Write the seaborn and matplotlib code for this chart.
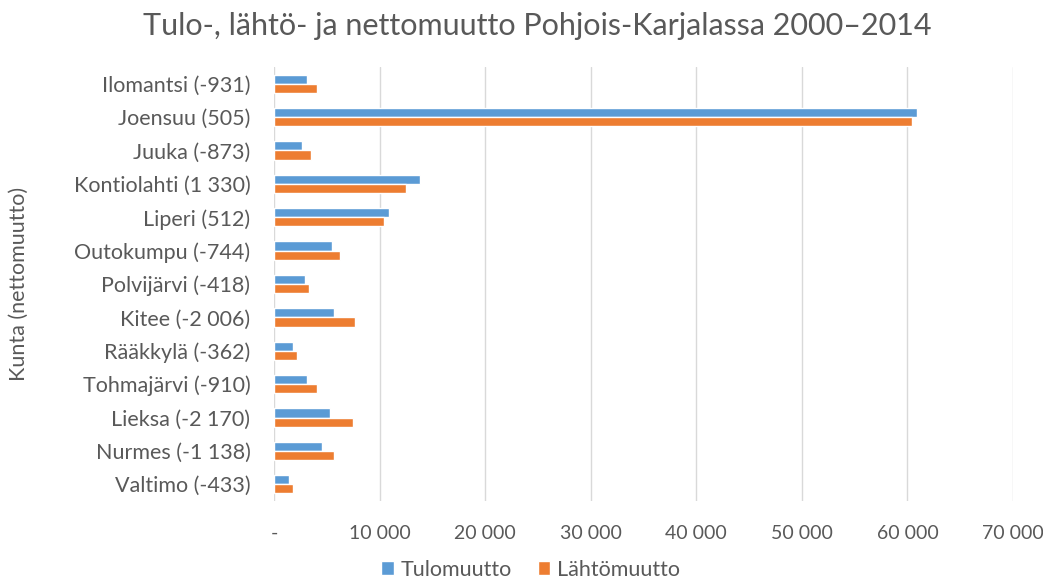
import matplotlib
matplotlib.use('Agg')
import matplotlib.pyplot as plt
from matplotlib.ticker import FuncFormatter
import numpy as np
import pandas as pd
import seaborn as sns

kunnat = ['Ilomantsi (-931)', 'Joensuu (505)', 'Juuka (-873)', 'Kontiolahti (1 330)',
          'Liperi (512)', 'Outokumpu (-744)', 'Polvijärvi (-418)', 'Kitee (-2 006)',
          'Rääkkylä (-362)', 'Tohmajärvi (-910)', 'Lieksa (-2 170)', 'Nurmes (-1 138)',
          'Valtimo (-433)']
tulomuutto = [3150, 60900, 2650, 13800, 10890, 5530, 2890, 5700, 1800, 3130, 5330, 4500, 1400]
lahtomuutto = [4081, 60395, 3523, 12470, 10378, 6274, 3308, 7706, 2162, 4040, 7500, 5638, 1833]

df = pd.DataFrame({
    'kunta': kunnat * 2,
    'arvo': tulomuutto + lahtomuutto,
    'sarja': ['Tulomuutto'] * len(kunnat) + ['Lähtömuutto'] * len(kunnat),
})

sns.set_style('white')
plt.rcParams['font.family'] = ['Lato', 'DejaVu Sans']
grey = '#595959'

fig = plt.figure(figsize=(10.43, 5.81), dpi=100)
ax = fig.add_axes([274 / 1043, 1 - 501 / 581, (1013 - 274) / 1043, (501 - 67) / 581])

sns.barplot(data=df, y='kunta', x='arvo', hue='sarja', orient='h', ax=ax,
            palette=['#5B9BD5', '#ED7D31'], width=0.55, saturation=1, legend=True)

ax.set_xlim(0, 70000)
ax.set_xticks(np.arange(0, 70001, 10000))
ax.xaxis.set_major_formatter(FuncFormatter(
    lambda v, p: '-' if v == 0 else f'{int(v):,}'.replace(',', ' ')))
ax.grid(axis='x', color='#D9D9D9', linewidth=1)
ax.set_axisbelow(True)
for s in ax.spines.values():
    s.set_visible(False)
ax.axvline(0, color='#D9D9D9', linewidth=1.3, zorder=0)
ax.tick_params(axis='x', length=0, pad=17, labelsize=14, labelcolor=grey)
ax.tick_params(axis='y', length=0, pad=17, labelsize=15.5, labelcolor=grey)
ax.set_xlabel('')
ax.set_ylabel('Kunta (nettomuutto)', fontsize=15.5, color=grey)
ax.yaxis.set_label_coords((29 - 274) / 739, 0.5)

fig.suptitle('Tulo-, lähtö- ja nettomuutto Pohjois-Karjalassa 2000–2014',
             fontsize=22, color=grey, x=537 / 1043, y=1 - 26 / 581, va='center')

ax.legend(loc='center', bbox_to_anchor=(0.5 - 113 / 739, -0.158), ncol=2, frameon=False,
          fontsize=15.5, labelcolor=grey, handlelength=0.6, handleheight=0.6,
          handletextpad=0.3, columnspacing=1.2)

fig.savefig('out.png', dpi=100)
